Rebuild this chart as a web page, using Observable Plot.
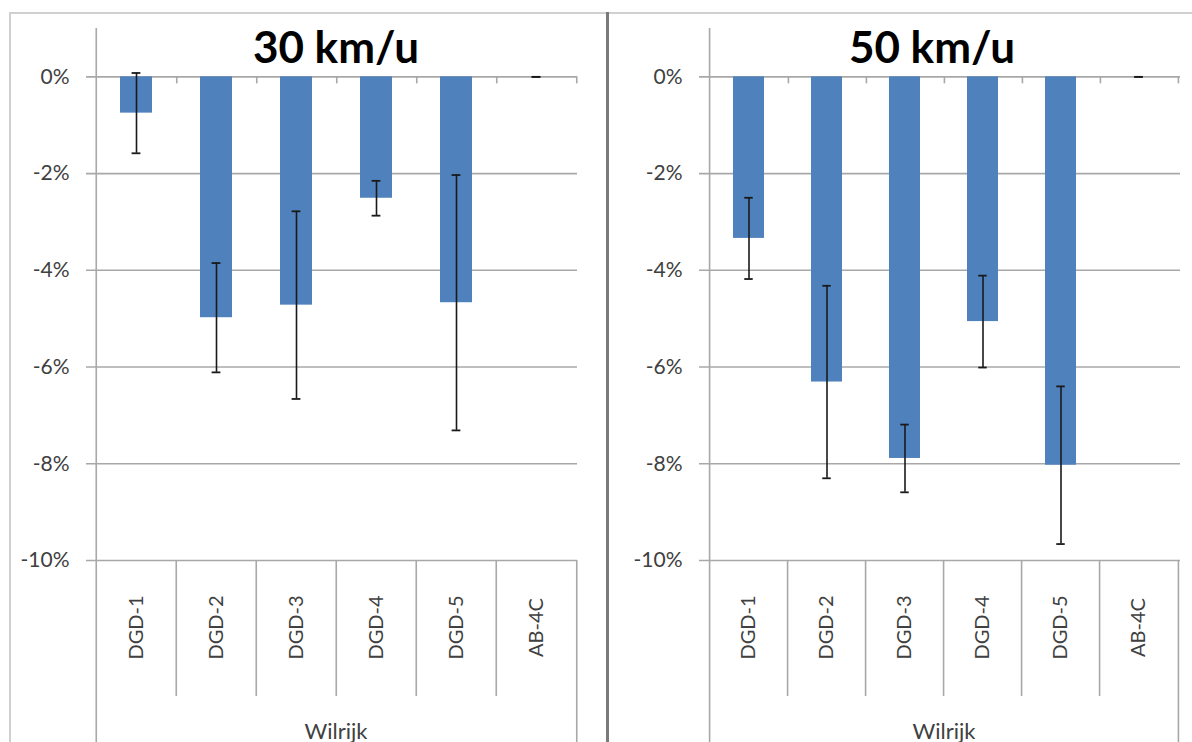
<!DOCTYPE html>
<html><head><meta charset="utf-8">
<script src="https://cdn.jsdelivr.net/npm/d3@7"></script>
<script src="https://cdn.jsdelivr.net/npm/@observablehq/plot@0.6"></script>
<style>
body{margin:0;background:#fff;width:1192px;height:742px;overflow:hidden;position:relative;font-family:Lato,sans-serif}
#frame{position:absolute;left:9px;top:12px;width:1183px;height:730px;border-left:2px solid #d0d0d0;border-top:2px solid #d0d0d0;}
#divider{position:absolute;left:606px;top:12px;width:3px;height:730px;background:#7a7a7a}
.panel{position:absolute;top:0}
</style></head><body>
<div id="frame"></div><div id="divider"></div>
<div id="p1" class="panel" style="left:0"></div>
<div id="p2" class="panel" style="left:610px"></div>
<script>
const categories = ["DGD-1", "DGD-2", "DGD-3", "DGD-4", "DGD-5", "AB-4C"];
const groupLabel = "Wilrijk";
const title30 = "30 km/u";
const title50 = "50 km/u";
const values30 = [-0.75, -4.98, -4.72, -2.51, -4.67, 0];
const errors30 = [0.83, 1.13, 1.94, 0.36, 2.64, 0];
const values50 = [-3.34, -6.31, -7.89, -5.06, -8.03, 0];
const errors50 = [0.84, 1.99, 0.70, 0.95, 1.63, 0];
const yTicks = [0, -2, -4, -6, -8, -10];
const yDomain = [-10, 1];

function panel(el, title, values, errors, opts) {
  const data = categories.map((c, i) => ({cat: c, v: values[i], lo: values[i] - errors[i], hi: values[i] + errors[i]}));
  const {width, marginLeft, marginRight, titleDx} = opts;
  const height = 742, marginTop = 28, marginBottom = 182;
  const step = (width - marginLeft - marginRight) / categories.length;
  const half = step / 2;
  const bandw = step * 0.4;
  const capInset = (bandw - 9) / 2;
  const grid = "#a8a8a8";
  const txt = "#404040";
  const chart = Plot.plot({
    width, height, marginLeft, marginRight, marginTop, marginBottom,
    style: {fontFamily: "Lato, sans-serif", background: "transparent", overflow: "visible"},
    x: {domain: categories, type: "band", paddingInner: 0.6, paddingOuter: 0.3, axis: null},
    y: {domain: yDomain, axis: null},
    marks: [
      Plot.ruleY(yTicks, {stroke: grid, strokeWidth: 1.6, insetLeft: -8}),
      Plot.axisY({ticks: yTicks, tickSize: 0, tickPadding: 25, tickFormat: d => d + "%", fontSize: 21, color: txt, label: null}),
      // y axis line (left edge) to bottom
      Plot.ruleX([categories[0]], {x: d => d, y1: yDomain[1], y2: yDomain[0], dx: -half, insetBottom: -marginBottom, stroke: grid, strokeWidth: 1.6}),
      // right edge below axis
      Plot.ruleX([categories[categories.length - 1]], {x: d => d, y1: yDomain[0], y2: yDomain[0], dx: half, insetBottom: -marginBottom, stroke: grid, strokeWidth: 1.6}),
      // inner category separators
      Plot.ruleX(categories.slice(1), {x: d => d, y1: yDomain[0], y2: yDomain[0], dx: -half, insetBottom: -136, stroke: grid, strokeWidth: 1.6}),
      // tick marks on zero line
      Plot.ruleX(categories, {x: d => d, y1: 0, y2: 0, dx: half, insetBottom: -7, stroke: grid, strokeWidth: 1.6}),
      Plot.barY(data, {x: "cat", y: "v", fill: "#4f81bd"}),
      Plot.ruleX(data, {x: "cat", y1: "lo", y2: "hi", stroke: "#1a1a1a", strokeWidth: 1.6}),
      Plot.tickY(data, {x: "cat", y: "lo", stroke: "#1a1a1a", strokeWidth: 1.8, insetLeft: capInset, insetRight: capInset}),
      Plot.tickY(data, {x: "cat", y: "hi", stroke: "#1a1a1a", strokeWidth: 1.8, insetLeft: capInset, insetRight: capInset}),
      Plot.text([title], {text: d => d, frameAnchor: "top", dx: titleDx, dy: 20, lineAnchor: "middle", fontSize: 44, fontWeight: "bold", fill: "#000"}),
      Plot.text(categories, {x: d => d, text: d => d, frameAnchor: "bottom", dy: 67, rotate: -90, textAnchor: "middle", lineAnchor: "middle", fontSize: 20, fill: txt}),
      Plot.text([groupLabel], {text: d => d, frameAnchor: "bottom", dy: 171, lineAnchor: "middle", fontSize: 22, fill: txt})
    ]
  });
  document.getElementById(el).appendChild(chart);
}

panel("p1", title30, values30, errors30, {width: 600, marginLeft: 94, marginRight: 23, titleDx: 0});
panel("p2", title50, values50, errors50, {width: 582, marginLeft: 97, marginRight: 12, titleDx: -12});
</script>
</body></html>
